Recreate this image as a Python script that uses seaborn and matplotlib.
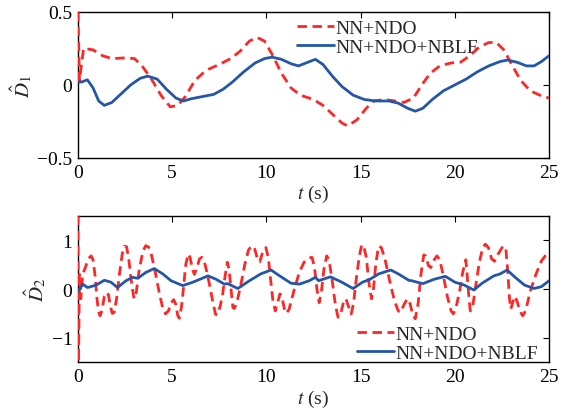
import numpy as np
import pandas as pd
import seaborn as sns
import matplotlib
matplotlib.use("Agg")
import matplotlib.pyplot as plt

# --- D1 estimates ---
t1_ndo = [0, 0.08, 0.3, 0.8, 1.3, 1.8, 2.5, 3.0, 3.4, 3.9, 4.4, 4.9, 5.3, 5.7, 6.2, 6.8,
          7.5, 8.1, 8.6, 9.1, 9.5, 9.9, 10.3, 10.8, 11.3, 11.8, 12.5, 13.0, 13.5, 14.0,
          14.3, 14.8, 15.3, 15.7, 16.3, 16.8, 17.3, 17.8, 18.3, 18.7, 19.2, 19.8, 20.3,
          20.8, 21.3, 21.8, 22.2, 22.6, 23.1, 23.5, 24.0, 24.5, 25.0]
d1_ndo = [0.5, 0.03, 0.25, 0.24, 0.2, 0.18, 0.185, 0.18, 0.13, 0.04, -0.07, -0.15, -0.14,
          -0.08, 0.03, 0.1, 0.14, 0.18, 0.23, 0.30, 0.325, 0.30, 0.21, 0.08, -0.02, -0.07,
          -0.1, -0.14, -0.2, -0.26, -0.28, -0.24, -0.16, -0.11, -0.1, -0.11, -0.12, -0.09,
          0.01, 0.08, 0.13, 0.15, 0.155, 0.2, 0.26, 0.29, 0.29, 0.24, 0.12, 0.03, -0.04,
          -0.07, -0.09]

t1_nblf = [0, 0.2, 0.5, 0.8, 1.1, 1.4, 1.8, 2.3, 2.8, 3.3, 3.7, 4.2, 4.7, 5.2, 5.6, 6.0,
           6.6, 7.2, 7.7, 8.2, 8.8, 9.4, 9.9, 10.3, 10.8, 11.3, 11.7, 12.1, 12.6, 13.0,
           13.5, 14.0, 14.6, 15.2, 15.8, 16.5, 17.0, 17.5, 17.9, 18.3, 18.8, 19.4, 20.0,
           20.6, 21.2, 21.8, 22.4, 22.8, 23.3, 23.8, 24.2, 24.6, 25.0]
d1_nblf = [0.02, 0.02, 0.035, -0.02, -0.11, -0.14, -0.12, -0.06, 0.0, 0.045, 0.06, 0.04,
           -0.03, -0.09, -0.11, -0.095, -0.08, -0.065, -0.03, 0.02, 0.09, 0.15, 0.18, 0.19,
           0.175, 0.145, 0.13, 0.15, 0.175, 0.14, 0.06, -0.01, -0.07, -0.1, -0.11, -0.11,
           -0.125, -0.16, -0.18, -0.16, -0.1, -0.04, 0.0, 0.04, 0.09, 0.13, 0.16, 0.17,
           0.155, 0.13, 0.13, 0.16, 0.2]

# --- D2 estimates ---
t2_ndo = [0.0, 0.03, 0.08, 0.15, 0.25, 0.4, 0.55, 0.7, 0.8, 0.9, 1.0, 1.08, 1.17, 1.27,
          1.4, 1.52, 1.62, 1.72, 1.82, 1.92, 2.05, 2.2, 2.35, 2.47, 2.58, 2.7, 2.82, 2.95,
          3.02, 3.1, 3.25, 3.45, 3.6, 3.75, 3.9, 4.1, 4.3, 4.5, 4.65, 4.8, 4.95, 5.08,
          5.18, 5.3, 5.38, 5.5, 5.62, 5.72, 5.85, 5.95, 6.08, 6.18, 6.3, 6.45, 6.58, 6.75,
          6.95, 7.15, 7.3, 7.4, 7.55, 7.68, 7.8, 7.93, 8.02, 8.12, 8.22, 8.3, 8.45, 8.65,
          8.85, 9.05, 9.22, 9.38, 9.55, 9.65, 9.82, 9.97, 10.1, 10.22, 10.35, 10.47, 10.58,
          10.72, 10.82, 10.95, 11.05, 11.2, 11.45, 11.75, 12.0, 12.2, 12.42, 12.55, 12.68,
          12.8, 12.92, 13.05, 13.2, 13.32, 13.5, 13.65, 13.8, 13.95, 14.1, 14.22, 14.35,
          14.5, 14.62, 14.75, 14.92, 15.05, 15.15, 15.3, 15.45, 15.58, 15.68, 15.8, 15.95,
          16.1, 16.3, 16.55, 16.8, 17.0, 17.12, 17.3, 17.48, 17.62, 17.78, 17.9, 18.05,
          18.2, 18.35, 18.45, 18.6, 18.72, 18.9, 19.05, 19.2, 19.4, 19.6, 19.8, 19.92,
          20.05, 20.25, 20.42, 20.58, 20.65, 20.75, 20.82, 20.95, 21.1, 21.3, 21.48, 21.62,
          21.78, 21.95, 22.1, 22.3, 22.55, 22.7, 22.8, 22.9, 22.97, 23.05, 23.18, 23.3,
          23.45, 23.6, 23.75, 24.0, 24.3, 24.6, 24.8, 25.0]
d2_ndo = [1.5, -1.5, 0.3, -0.2, 0.3, 0.45, 0.62, 0.68, 0.6, 0.3, -0.15, -0.45, -0.55,
          -0.45, -0.15, -0.07, -0.12, -0.35, -0.5, -0.48, -0.2, 0.3, 0.72, 0.88, 0.87, 0.6,
          0.2, -0.15, -0.2, -0.05, 0.4, 0.78, 0.89, 0.86, 0.7, 0.35, -0.05, -0.4, -0.51,
          -0.45, -0.28, -0.22, -0.3, -0.55, -0.6, -0.35, 0.1, 0.5, 0.72, 0.65, 0.4, 0.3,
          0.42, 0.62, 0.65, 0.5, 0.15, -0.25, -0.52, -0.53, -0.35, -0.1, 0.25, 0.55, 0.4,
          0.0, -0.38, -0.4, -0.25, 0.1, 0.5, 0.8, 0.89, 0.82, 0.58, 0.56, 0.78, 0.85, 0.65,
          0.2, -0.25, -0.45, -0.3, -0.1, -0.15, -0.4, -0.5, -0.42, -0.05, 0.35, 0.55, 0.63,
          0.65, 0.45, 0.0, -0.28, -0.05, 0.4, 0.68, 0.6, 0.15, -0.3, -0.58, -0.5, -0.25,
          -0.2, -0.35, -0.51, -0.3, 0.15, 0.65, 0.9, 0.9, 0.65, 0.1, -0.2, 0.0, 0.5, 0.88,
          0.85, 0.6, 0.15, -0.25, -0.45, -0.48, -0.32, -0.2, -0.3, -0.55, -0.61, -0.3, 0.3,
          0.7, 0.68, 0.48, 0.44, 0.6, 0.68, 0.6, 0.25, -0.15, -0.45, -0.51, -0.4, -0.05,
          0.35, 0.6, 0.3, -0.2, -0.45, -0.35, 0.05, 0.55, 0.85, 0.92, 0.85, 0.62, 0.57,
          0.72, 0.88, 0.85, 0.4, -0.2, -0.41, -0.3, -0.15, -0.25, -0.45, -0.55, -0.45,
          -0.05, 0.3, 0.58, 0.68, 0.72]

t2_nblf = [0.0, 0.04, 0.25, 0.51, 0.96, 1.4, 1.75, 2.1, 2.55, 2.9, 3.17, 3.6, 4.05, 4.5,
           4.94, 5.56, 6.1, 6.9, 7.33, 7.77, 7.95, 8.48, 9.1, 9.7, 10.25, 10.7, 11.3, 11.75,
           12.28, 12.6, 12.77, 13.4, 14.0, 14.6, 15.1, 15.5, 15.96, 16.6, 17.0, 17.55, 17.7,
           18.3, 18.9, 19.5, 20.0, 20.5, 21.0, 21.45, 22.07, 22.4, 22.77, 23.2, 23.7, 24.2,
           24.6, 25.0]
d2_nblf = [-0.04, -0.04, 0.1, 0.03, 0.08, 0.18, 0.14, 0.03, 0.17, 0.24, 0.22, 0.34, 0.42,
           0.31, 0.17, 0.07, 0.14, 0.27, 0.2, 0.1, 0.11, 0.01, 0.17, 0.31, 0.39, 0.27, 0.12,
           0.1, 0.17, 0.24, 0.17, 0.25, 0.14, 0.01, 0.14, 0.2, 0.31, 0.39, 0.31, 0.18, 0.17,
           0.11, 0.2, 0.26, 0.14, 0.08, -0.02, 0.12, 0.27, 0.31, 0.39, 0.24, 0.08, 0.01,
           0.05, 0.17]

labels = ["NN+NDO", "NN+NDO+NBLF"]
xticks = [0, 5, 10, 15, 20, 25]

sns.set_style("white")
plt.rcParams["font.family"] = ["Liberation Serif", "DejaVu Serif"]
plt.rcParams["mathtext.fontset"] = "stix"

RED = "#FF2626"
BLUE = "#2456A8"
DASH = (3.4, 2.0)

fig = plt.figure(figsize=(5.69, 4.14), dpi=100)
ax1 = fig.add_axes([0.137, 0.616, 0.828, 0.353])
ax2 = fig.add_axes([0.137, 0.123, 0.828, 0.353])


def draw(ax, ta, ya, tb, yb, ylim, yticks, ylabel, legend_loc, bbox):
    df_a = pd.DataFrame({"t": ta, "v": ya})
    df_b = pd.DataFrame({"t": tb, "v": yb})
    sns.lineplot(data=df_a, x="t", y="v", ax=ax, color=RED, lw=2.0,
                 label=labels[0], sort=False, estimator=None, zorder=3)
    sns.lineplot(data=df_b, x="t", y="v", ax=ax, color=BLUE, lw=2.0,
                 label=labels[1], sort=False, estimator=None, zorder=3.1)
    ax.lines[0].set_dashes(DASH)
    ax.set_xlim(0, 25)
    ax.set_ylim(*ylim)
    ax.set_xticks(xticks)
    ax.set_yticks(yticks)
    ax.set_yticklabels([("%g" % v).replace("-", "\u2212") for v in yticks])
    ax.tick_params(direction="in", length=4, width=0.8, top=True, right=True,
                   labelsize=14, colors="black", pad=4)
    for s in ax.spines.values():
        s.set_color("black")
        s.set_linewidth(1.0)
    ax.set_xlabel(r"$t$ (s)", fontsize=14, labelpad=2)
    ax.set_ylabel(ylabel, fontsize=15, labelpad=2)
    leg = ax.legend(loc=legend_loc, bbox_to_anchor=bbox, frameon=False, fontsize=14,
                    handlelength=1.9, handletextpad=0.1, labelspacing=0.05,
                    borderaxespad=0.0)
    for h in leg.get_lines():
        h.set_linewidth(2.0)
    leg.get_lines()[0].set_dashes(DASH)


draw(ax1, t1_ndo, d1_ndo, t1_nblf, d1_nblf, (-0.5, 0.5), [-0.5, 0, 0.5],
     r"$\hat{D}_1$", "upper left", (0.448, 1.0))
draw(ax2, t2_ndo, d2_ndo, t2_nblf, d2_nblf, (-1.5, 1.5), [-1, 0, 1],
     r"$\hat{D}_2$", "lower left", (0.575, -0.05))

fig.savefig("out.png", dpi=100)
